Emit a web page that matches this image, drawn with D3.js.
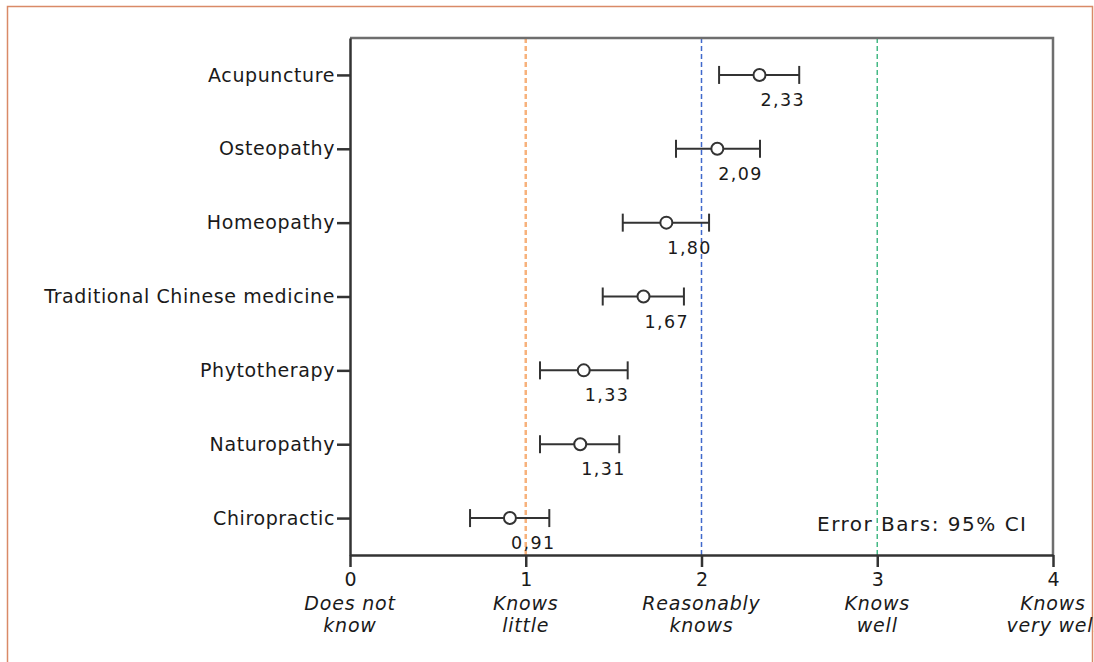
<!DOCTYPE html>
<html>
<head>
<meta charset="utf-8">
<script src="https://cdn.jsdelivr.net/npm/d3@7"></script>
<style>
  body { margin: 0; background: #fff; }
  svg text { font-family: "DejaVu Sans", sans-serif; fill: #1a1a1a; }
</style>
</head>
<body>
<svg id="chart" width="1094" height="662"></svg>
<script>
// donnees du graphique
const categories = ["Acupuncture", "Osteopathy", "Homeopathy", "Traditional Chinese medicine",
                    "Phytotherapy", "Naturopathy", "Chiropractic"];
const means  = [2.33, 2.09, 1.80, 1.67, 1.33, 1.31, 0.91];
const ciLow  = [2.10, 1.855, 1.552, 1.438, 1.081, 1.081, 0.683];
const ciHigh = [2.556, 2.333, 2.043, 1.900, 1.580, 1.532, 1.134];
const tickValues = [0, 1, 2, 3, 4];
const tickLabels = [["Does not", "know"], ["Knows", "little"], ["Reasonably", "knows"],
                    ["Knows", "well"], ["Knows", "very well"]];
const refLines = [1, 2, 3];
const refColors = ["#f7b27c", "#4069cc", "#45b985"];

const svg = d3.select("#chart");
const mLeft = 350, mRight = 1053, mTop = 38, mBottom = 555;

// cadre exterieur orange
svg.append("rect").attr("x", 7.5).attr("y", 6.5).attr("width", 1085).attr("height", 700)
   .attr("fill", "none").attr("stroke", "#d98a67").attr("stroke-width", 1.5);

const x = d3.scaleLinear().domain([0, 4]).range([mLeft, mRight]);
const y = d3.scalePoint().domain(categories).range([mTop, mBottom]).padding(0.5);

// lignes de reference pointillees
svg.selectAll(".ref").data(refLines).join("line")
   .attr("x1", d => x(d)).attr("x2", d => x(d))
   .attr("y1", mTop).attr("y2", mBottom)
   .attr("stroke", (d, i) => refColors[i])
   .attr("stroke-width", (d, i) => i === 0 ? 2.5 : 1.5)
   .attr("stroke-dasharray", "5,3");

// cadre haut et droite
svg.append("path")
   .attr("d", `M${mLeft},${mTop}H${mRight}V${mBottom}`)
   .attr("fill", "none").attr("stroke", "#6e6e6e").attr("stroke-width", 2.5);

// axe des categories
const yAxis = svg.append("g").attr("transform", `translate(${mLeft},0)`)
   .call(d3.axisLeft(y).tickSize(13).tickPadding(2).tickSizeOuter(0));
yAxis.select(".domain").attr("stroke", "#333").attr("stroke-width", 2.5);
yAxis.selectAll(".tick line").attr("stroke", "#333").attr("stroke-width", 2.5);
yAxis.selectAll(".tick text").attr("font-size", 19).attr("fill", "#1a1a1a")
     .attr("font-family", "DejaVu Sans").attr("letter-spacing", 0.6);

// axe horizontal
const xAxis = svg.append("g").attr("transform", `translate(0,${mBottom})`)
   .call(d3.axisBottom(x).tickValues(tickValues).tickFormat(d3.format("d"))
           .tickSize(12).tickSizeOuter(0).tickPadding(6));
xAxis.select(".domain").attr("stroke", "#333").attr("stroke-width", 2.5);
xAxis.selectAll(".tick line").attr("stroke", "#333").attr("stroke-width", 2.5);
xAxis.selectAll(".tick text").attr("font-size", 19).attr("fill", "#1a1a1a")
     .attr("font-family", "DejaVu Sans");

// libelles en italique sous les graduations
tickValues.forEach((v, i) => {
    tickLabels[i].forEach((t, j) => {
        svg.append("text").attr("x", x(v)).attr("y", 610 + j * 22)
           .attr("text-anchor", "middle").attr("font-size", 19)
           .attr("letter-spacing", 0.8)
           .attr("font-style", "italic").text(t);
    });
});

// barres d'erreur
const cap = 9;
const g = svg.append("g");
categories.forEach((c, i) => {
    const cy = y(c);
    g.append("line").attr("x1", x(ciLow[i])).attr("x2", x(ciHigh[i]))
     .attr("y1", cy).attr("y2", cy).attr("stroke", "#333").attr("stroke-width", 2);
    [ciLow[i], ciHigh[i]].forEach(v => {
        g.append("line").attr("x1", x(v)).attr("x2", x(v))
         .attr("y1", cy - cap).attr("y2", cy + cap)
         .attr("stroke", "#333").attr("stroke-width", 2);
    });
    g.append("circle").attr("cx", x(means[i])).attr("cy", cy).attr("r", 6)
     .attr("fill", "#fff").attr("stroke", "#333").attr("stroke-width", 2);
    g.append("text").attr("x", x(means[i]) + 1).attr("y", cy + 31)
     .attr("font-size", 17.5).attr("letter-spacing", 1.4)
     .text(means[i].toFixed(2).replace(".", ","));
});

// legende
svg.append("text").attr("x", 817).attr("y", 531).attr("font-size", 20)
   .attr("letter-spacing", 1.5).text("Error Bars: 95% CI");
</script>
</body>
</html>
